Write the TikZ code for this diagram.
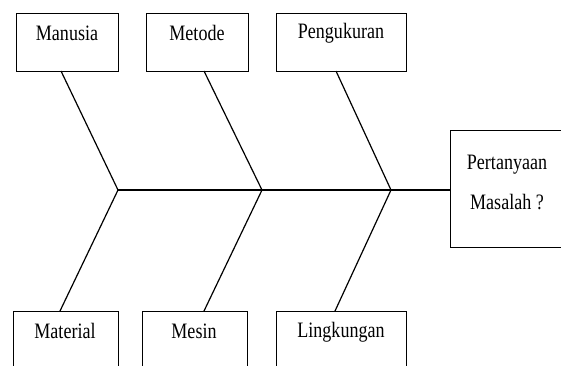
\documentclass[tikz,border=0pt]{standalone}
\usepackage{fontspec}
\setmainfont[FakeStretch=0.82]{Liberation Serif}
\begin{document}
\begin{tikzpicture}[x=1pt,y=-1pt,
  causebox/.style={draw, line width=1pt, minimum width=102pt, minimum height=58pt, inner sep=0pt},
  causetext/.style={font=\fontsize{22}{26}\selectfont, inner sep=0pt},
  bone/.style={line width=1.2pt}]
\useasboundingbox (0,0) rectangle (561,365);

% cause boxes along the top
\node[causebox, minimum width=102pt, anchor=north west] (manusia) at (16,13) {};
\node[causebox, minimum width=102pt, anchor=north west] (metode) at (146,13) {};
\node[causebox, minimum width=130pt, anchor=north west] (pengukuran) at (276,13) {};
\node[causetext] (tmanusia) at (67,33) {Manusia};
\node[causetext] (tmetode) at (197,33) {Metode};
\node[causetext] (tpengukuran) at (341,33) {Pengukuran};

% cause boxes along the bottom (running off the lower edge)
\node[causebox, minimum width=105pt, anchor=north west] (material) at (13,311) {};
\node[causebox, minimum width=105pt, anchor=north west] (mesin) at (142,311) {};
\node[causebox, minimum width=130pt, anchor=north west] (lingkungan) at (276,311) {};
\node[causetext] (tmaterial) at (65,331) {Material};
\node[causetext] (tmesin) at (194,331) {Mesin};
\node[causetext] (tlingkungan) at (341,332) {Lingkungan};

% problem box at the head of the fish (running off the right edge)
\node[causebox, minimum width=124pt, minimum height=117pt, anchor=north west] (head) at (450,130) {};
\node[causetext] (thead1) at (507,165) {Pertanyaan};
\node[causetext] (thead2) at (507,202) {Masalah ?};

% joints on the spine and rib ends at the boxes
\coordinate (j1) at (118,190);
\coordinate (j2) at (262,190);
\coordinate (j3) at (391,190);
\coordinate (m1) at (61,71);
\coordinate (m2) at (204,71);
\coordinate (m3) at (336,71);
\coordinate (b1) at (60,311);
\coordinate (b2) at (204,311);
\coordinate (b3) at (335,311);

% spine
\draw[bone] (j1) -- (j1 -| head.west);

% ribs
\draw[bone] (m1) -- (j1) -- (b1);
\draw[bone] (m2) -- (j2) -- (b2);
\draw[bone] (m3) -- (j3) -- (b3);
\end{tikzpicture}
\end{document}
